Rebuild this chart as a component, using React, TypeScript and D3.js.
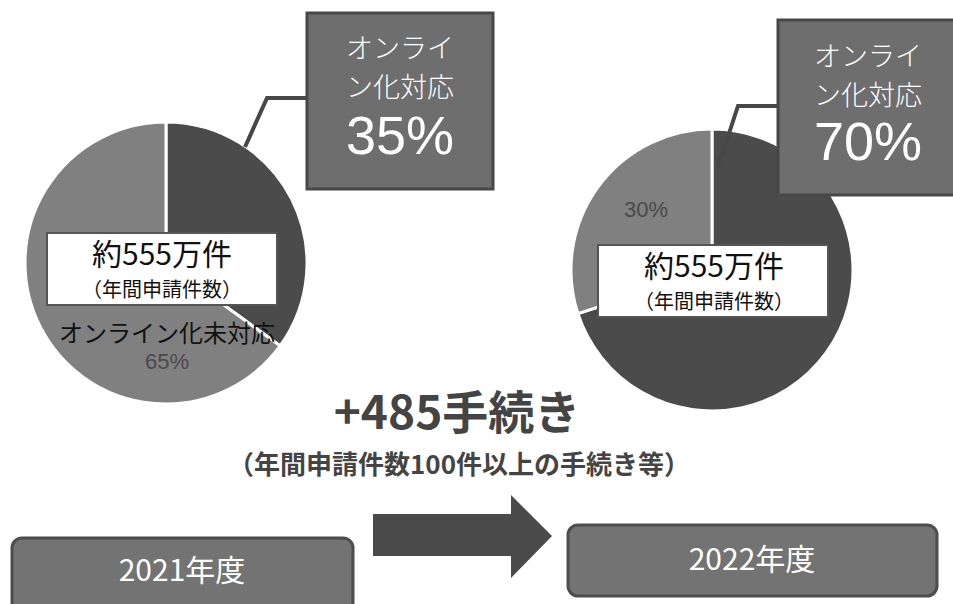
import React from 'react';
import * as d3 from 'd3';

// values
const years = ['2021年度', '2022年度'];
const onlineShare = [35, 70];
const offlineShare = [65, 30];
const calloutLines = ['オンライ', 'ン化対応'];
const totalLabel = '約555万件';
const totalSub = '（年間申請件数）';
const offlineLabel = ['オンライン化未対応', ''];
const headline = '+485手続き';
const headlineSub = '（年間申請件数100件以上の手続き等）';

const W = 953;
const H = 604;
const JP = '"Noto Sans CJK JP", "Noto Sans", sans-serif';
const LAT = '"Liberation Sans", Arial, sans-serif';

const DARK = '#4b4b4b';
const LIGHT = '#808080';

// layout of each pie panel
const panels = [
  {
    cx: 166, cy: 263, r: 141,
    box: {x: 47, y: 233, w: 230, h: 72, t1: 265, t2: 297, cx: 162},
    callout: {x: 307, y: 13, w: 186, h: 176, cx: 400, b: [58, 97, 154]},
    leader: [[307, 98], [267, 98], [245, 147]],
    offText: {x: 167, y1: 342, y2: 369},
  },
  {
    cx: 712, cy: 270, r: 141,
    box: {x: 598, y: 245, w: 230, h: 72, t1: 277, t2: 309, cx: 714},
    callout: {x: 778, y: 20, w: 190, h: 175, cx: 868, b: [66, 105, 160]},
    leader: [[778, 106], [738, 106], [718, 167]],
    offText: {x: 646, y1: 0, y2: 217},
  },
];

const yearBoxes = [
  {x: 12, y: 538, w: 341, h: 80, ty: 581, cx: 182},
  {x: 568, y: 525, w: 369, h: 71, ty: 570, cx: 752},
];

const pie = d3.pie<number>().sort(null).value((d) => d);

function Panel({i}: {i: number}) {
  const p = panels[i];
  const arcs = pie([onlineShare[i], offlineShare[i]]);
  const arc = d3.arc<d3.PieArcDatum<number>>().innerRadius(0).outerRadius(p.r);
  const line = d3.line();
  const c = p.callout;
  return (
    <g>
      <g transform={`translate(${p.cx},${p.cy})`}>
        {arcs.map((a, k) => (
          <path key={k} d={arc(a) || ''} fill={k === 0 ? DARK : LIGHT} stroke="#fff" strokeWidth={3} />
        ))}
      </g>
      {offlineLabel[i] ? (
        <text x={p.offText.x} y={p.offText.y1} textAnchor="middle" fontFamily={JP} fontSize={24} fill="#111">
          {offlineLabel[i]}
        </text>
      ) : null}
      <text x={p.offText.x} y={p.offText.y2} textAnchor="middle" fontFamily={LAT} fontSize={22} fill="#4a4a4a">
        {offlineShare[i]}%
      </text>
      <rect x={p.box.x} y={p.box.y} width={p.box.w} height={p.box.h} fill="#fff" stroke="#555" strokeWidth={2} />
      <text x={p.box.cx} y={p.box.t1} textAnchor="middle" fontFamily={JP} fontSize={30} fill="#111">
        {totalLabel}
      </text>
      <text x={p.box.cx} y={p.box.t2} textAnchor="middle" fontFamily={JP} fontSize={20} fill="#111">
        {totalSub}
      </text>
      <path d={line(p.leader as [number, number][]) || ''} fill="none" stroke="#474747" strokeWidth={4} />
      <rect x={c.x} y={c.y} width={c.w} height={c.h} fill="#6e6e6e" stroke="#474747" strokeWidth={3} />
      {calloutLines.map((t, k) => (
        <text key={k} x={c.cx} y={c.b[k]} textAnchor="middle" fontFamily={JP} fontWeight={300} fontSize={27} fill="#fff">
          {t}
        </text>
      ))}
      <text x={c.cx} y={c.b[2]} textAnchor="middle" fontFamily={LAT} fontSize={54} fill="#fff">
        {onlineShare[i]}%
      </text>
    </g>
  );
}

export default function App() {
  const arrow = d3.line()([
    [373, 514], [511, 514], [511, 495], [552, 536], [511, 578], [511, 556], [373, 556],
  ]) + 'Z';
  return (
    <svg width={W} height={H} style={{position: 'absolute', left: 0, top: 0, background: '#fff'}}>
      <rect width={W} height={H} fill="#fff" />
      {panels.map((_, i) => <Panel key={i} i={i} />)}
      <text x={457} y={429} textAnchor="middle" fontFamily={JP} fontWeight={700} fontSize={46} fill="#444">
        {headline}
      </text>
      <text x={459} y={474} textAnchor="middle" fontFamily={JP} fontWeight={700} fontSize={26} fill="#444">
        {headlineSub}
      </text>
      <path d={arrow} fill="#4a4a4a" />
      {yearBoxes.map((b, i) => (
        <g key={i}>
          <rect x={b.x} y={b.y} width={b.w} height={b.h} rx={10} fill="#737373" stroke="#4d4d4d" strokeWidth={3} />
          <text x={b.cx} y={b.ty} textAnchor="middle" fontFamily={JP} fontSize={30} fill="#fff">
            {years[i]}
          </text>
        </g>
      ))}
    </svg>
  );
}
